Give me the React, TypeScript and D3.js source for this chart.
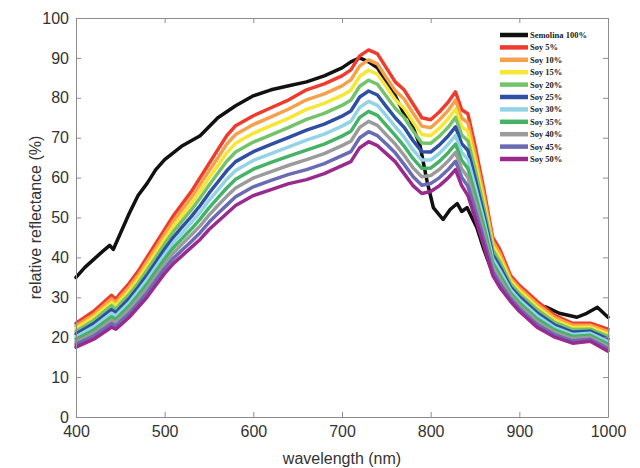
import React, { useEffect, useRef } from 'react';
import * as d3 from 'd3';

// wavelength grid (nm) shared by the soy blends
const wavelengths = [400, 420, 440, 445, 450, 460, 470, 480, 490, 500, 510, 520, 530, 540, 550, 560, 570, 580, 600, 620, 640, 660, 680, 700, 710, 720, 730, 740, 750, 760, 770, 780, 790, 800, 810, 820, 828, 835, 842, 850, 860, 870, 878, 890, 900, 920, 940, 960, 980, 1000];

const soy5 = [23.5, 26.5, 30.5, 29.5, 31, 33.5, 36.5, 40, 43.5, 47, 50.5, 53.5, 56.5, 60, 63.5, 67, 70.5, 73, 75.5, 77.5, 79.5, 82, 83.5, 85.5, 87, 90.5, 92, 91, 87.5, 84, 82, 78.5, 75, 74.5, 76.5, 79, 81.5, 77, 76, 68, 57, 45, 42, 35.5, 33, 29, 25.5, 23.5, 23.5, 22];
const soy10 = [22.8, 25.7, 29.6, 28.7, 30.1, 32.6, 35.5, 38.9, 42.3, 45.8, 49.2, 52.1, 55.0, 58.3, 61.7, 65.0, 68.4, 70.8, 73.3, 75.2, 77.2, 79.5, 81.0, 83.0, 84.5, 88.0, 89.5, 88.5, 85.1, 81.8, 79.7, 76.2, 72.9, 72.5, 74.5, 76.9, 79.4, 74.9, 73.7, 66.0, 55.5, 44.0, 41.0, 34.8, 32.3, 28.3, 24.9, 23.0, 23.0, 21.4];
const soy15 = [22.2, 25.0, 28.7, 27.9, 29.2, 31.6, 34.5, 37.8, 41.2, 44.6, 47.9, 50.6, 53.4, 56.6, 59.9, 63.0, 66.2, 68.6, 71.1, 73.0, 74.9, 77.1, 78.6, 80.6, 81.9, 85.4, 86.9, 85.9, 82.8, 79.6, 77.4, 74.0, 70.8, 70.5, 72.4, 74.8, 77.2, 72.8, 71.5, 64.0, 53.9, 42.9, 39.9, 34.1, 31.6, 27.6, 24.3, 22.4, 22.5, 20.8];
const soy20 = [21.5, 24.2, 27.9, 27.0, 28.4, 30.7, 33.5, 36.7, 40.0, 43.4, 46.5, 49.2, 51.9, 54.9, 58.1, 61.1, 64.1, 66.4, 68.9, 70.7, 72.6, 74.6, 76.1, 78.1, 79.4, 82.9, 84.4, 83.4, 80.4, 77.4, 75.1, 71.7, 68.7, 68.6, 70.4, 72.7, 75.1, 70.7, 69.2, 62.1, 52.4, 41.9, 38.9, 33.4, 30.9, 26.9, 23.7, 21.9, 22.0, 20.2];
const soy25 = [20.8, 23.4, 26.9, 26.1, 27.4, 29.7, 32.5, 35.5, 38.8, 42.1, 45.1, 47.7, 50.2, 53.0, 56.1, 58.9, 61.7, 64.0, 66.5, 68.3, 70.1, 71.9, 73.4, 75.4, 76.7, 80.2, 81.7, 80.7, 77.8, 75.0, 72.6, 69.3, 66.5, 66.4, 68.2, 70.5, 72.7, 68.5, 66.8, 59.9, 50.7, 40.7, 37.7, 32.6, 30.1, 26.1, 23.0, 21.3, 21.5, 19.5];
const soy30 = [20.1, 22.6, 26.0, 25.3, 26.5, 28.7, 31.5, 34.4, 37.6, 40.8, 43.8, 46.2, 48.7, 51.3, 54.3, 56.9, 59.6, 61.8, 64.3, 66.0, 67.7, 69.4, 70.9, 72.9, 74.1, 77.6, 79.1, 78.1, 75.5, 72.8, 70.2, 67.0, 64.4, 64.4, 66.1, 68.4, 70.6, 66.4, 64.5, 57.9, 49.2, 39.7, 36.7, 31.9, 29.4, 25.4, 22.4, 20.7, 21.0, 18.9];
const soy35 = [19.5, 21.8, 25.1, 24.5, 25.6, 27.8, 30.5, 33.3, 36.5, 39.6, 42.5, 44.8, 47.1, 49.6, 52.4, 54.9, 57.4, 59.6, 62.1, 63.8, 65.4, 66.9, 68.4, 70.4, 71.6, 75.1, 76.6, 75.6, 73.1, 70.6, 67.9, 64.8, 62.3, 62.4, 64.1, 66.3, 68.4, 64.3, 62.3, 55.9, 47.6, 38.6, 35.6, 31.1, 28.6, 24.6, 21.8, 20.2, 20.5, 18.3];
const soy40 = [18.8, 21.0, 24.3, 23.7, 24.8, 26.9, 29.5, 32.2, 35.3, 38.4, 41.1, 43.4, 45.6, 47.9, 50.6, 53.0, 55.3, 57.4, 59.9, 61.5, 63.1, 64.5, 66.0, 68.0, 69.1, 72.6, 74.1, 73.1, 70.7, 68.4, 65.6, 62.5, 60.2, 60.5, 62.1, 64.2, 66.3, 62.2, 60.0, 54.0, 46.1, 37.6, 34.6, 30.4, 27.9, 23.9, 21.2, 19.6, 20.0, 17.7];
const soy45 = [18.2, 20.3, 23.4, 22.8, 23.9, 25.9, 28.5, 31.1, 34.2, 37.2, 39.8, 41.9, 44.0, 46.2, 48.8, 51.0, 53.1, 55.2, 57.7, 59.3, 60.8, 62.0, 63.5, 65.5, 66.5, 70.0, 71.5, 70.5, 68.4, 66.2, 63.3, 60.3, 58.1, 58.5, 60.0, 62.1, 64.1, 60.1, 57.8, 52.0, 44.5, 36.5, 33.5, 29.7, 27.2, 23.2, 20.6, 19.1, 19.5, 17.1];
const soy50 = [17.5, 19.5, 22.5, 22, 23, 25, 27.5, 30, 33, 36, 38.5, 40.5, 42.5, 44.5, 47, 49, 51, 53, 55.5, 57, 58.5, 59.5, 61, 63, 64, 67.5, 69, 68, 66, 64, 61, 58, 56, 56.5, 58, 60, 62, 58, 55.5, 50, 43, 35.5, 32.5, 29, 26.5, 22.5, 20, 18.5, 19, 16.5];

// semolina has its own sampling (more detail around 800-850 nm)
const semolinaWl = [400, 410, 420, 430, 438, 442, 450, 460, 470, 480, 490, 500, 520, 540, 560, 580, 600, 620, 640, 660, 680, 700, 710, 720, 730, 740, 750, 760, 770, 776, 788, 796, 803, 814, 822, 830, 835, 841, 852, 860, 870, 880, 890, 900, 920, 931, 945, 955, 965, 976, 988, 1000];
const semolina = [35, 37.5, 39.5, 41.5, 43, 42, 46, 51, 55.5, 58.5, 62, 64.5, 68, 70.5, 75, 78, 80.5, 82, 83, 84, 85.5, 87.5, 89, 90, 89, 87.5, 84, 80.5, 76, 75, 68, 59, 52.5, 49.5, 52, 53.5, 51.5, 52.5, 47.5, 42, 36, 32, 30, 29, 28, 27.5, 26, 25.5, 25, 26, 27.5, 25];

const soySeries = [soy5, soy10, soy15, soy20, soy25, soy30, soy35, soy40, soy45, soy50];
const soyNames = ['Soy 5%', 'Soy 10%', 'Soy 15%', 'Soy 20%', 'Soy 25%', 'Soy 30%', 'Soy 35%', 'Soy 40%', 'Soy 45%', 'Soy 50%'];
const soyColors = ['#ef3b2d', '#f6a04a', '#f7e633', '#74c36a', '#2e4fa3', '#92d4e6', '#45b365', '#9b9b9b', '#6a6ab5', '#9b2a8f'];

const xTicks = [400, 500, 600, 700, 800, 900, 1000];
const yTicks = [0, 10, 20, 30, 40, 50, 60, 70, 80, 90, 100];

const App = () => {
  const ref = useRef<SVGSVGElement>(null);

  useEffect(() => {
    const svg = d3.select(ref.current);
    svg.selectAll('*').remove();

    const width = 640;
    const height = 468;
    const marginTop = 18;
    const marginRight = 32;
    const marginBottom = 51;
    const marginLeft = 76;
    const axisColor = '#8c8c8c';
    const textColor = '#333';
    const font = '"Liberation Sans", Arial, Helvetica, sans-serif';

    const x = d3.scaleLinear().domain([400, 1000]).range([marginLeft, width - marginRight]);
    const y = d3.scaleLinear().domain([0, 100]).range([height - marginBottom, marginTop]);

    // spectra: semolina first so the blends sit on top of it
    const plot = svg.append('g').attr('fill', 'none').attr('stroke-linejoin', 'round').attr('stroke-linecap', 'round');

    const semLine = d3.line<number>().x((d, i) => x(semolinaWl[i])).y(d => y(d));
    plot.append('path')
      .attr('d', semLine(semolina))
      .attr('stroke', '#111')
      .attr('stroke-width', 3.5);

    const soyLine = d3.line<number>().x((d, i) => x(wavelengths[i])).y(d => y(d));
    plot.selectAll('path.soy')
      .data(soySeries)
      .join('path')
      .attr('class', 'soy')
      .attr('d', d => soyLine(d))
      .attr('stroke', (d, i) => soyColors[i])
      .attr('stroke-width', 3.5);

    // axes (MATLAB style: box on, ticks pointing inward)
    const styleAxis = (g) => {
      g.select('.domain').attr('stroke', axisColor);
      g.selectAll('.tick line').attr('stroke', axisColor);
      g.selectAll('.tick text').attr('fill', textColor).style('font-size', '16px').style('font-family', font);
    };

    svg.append('g')
      .attr('transform', `translate(0,${height - marginBottom})`)
      .call(d3.axisBottom(x).tickValues(xTicks).tickSizeInner(-5).tickSizeOuter(0).tickPadding(9).tickFormat(d3.format('d')))
      .call(styleAxis);

    svg.append('g')
      .attr('transform', `translate(0,${marginTop})`)
      .call(d3.axisTop(x).tickValues(xTicks).tickSizeInner(-5).tickSizeOuter(0).tickFormat(() => ''))
      .call(styleAxis);

    svg.append('g')
      .attr('transform', `translate(${marginLeft},0)`)
      .call(d3.axisLeft(y).tickValues(yTicks).tickSizeInner(-5).tickSizeOuter(0).tickPadding(7).tickFormat(d3.format('d')))
      .call(styleAxis);

    svg.append('g')
      .attr('transform', `translate(${width - marginRight},0)`)
      .call(d3.axisRight(y).tickValues(yTicks).tickSizeInner(-5).tickSizeOuter(0).tickFormat(() => ''))
      .call(styleAxis);

    svg.append('text')
      .attr('x', (marginLeft + width - marginRight) / 2)
      .attr('y', height - 4)
      .attr('text-anchor', 'middle')
      .style('font-family', font)
      .style('font-size', '16px')
      .attr('fill', textColor)
      .text('wavelength (nm)');

    svg.append('text')
      .attr('transform', `translate(41,${(marginTop + height - marginBottom) / 2}) rotate(-90)`)
      .attr('text-anchor', 'middle')
      .style('font-family', font)
      .style('font-size', '16px')
      .attr('fill', textColor)
      .text('relative reflectance (%)');

    // legend
    const names = ['Semolina 100%', ...soyNames];
    const colors = ['#111', ...soyColors];
    const legend = svg.append('g').attr('transform', 'translate(500,35)');
    const rows = legend.selectAll('g')
      .data(names)
      .join('g')
      .attr('transform', (d, i) => `translate(0,${i * 12.4})`);
    rows.append('line')
      .attr('x1', 0)
      .attr('x2', 28)
      .attr('stroke', (d, i) => colors[i])
      .attr('stroke-width', 4.5);
    rows.append('text')
      .attr('x', 30)
      .attr('dy', '0.35em')
      .style('font-family', '"Liberation Serif", "Times New Roman", serif')
      .style('font-weight', 'bold')
      .style('font-size', '8.5px')
      .attr('fill', '#222')
      .text(d => d);
  }, []);

  return (
    <svg
      ref={ref}
      width={640}
      height={468}
      style={{ position: 'absolute', left: 0, top: 0, background: '#fff' }}
    ></svg>
  );
};

export default App;
